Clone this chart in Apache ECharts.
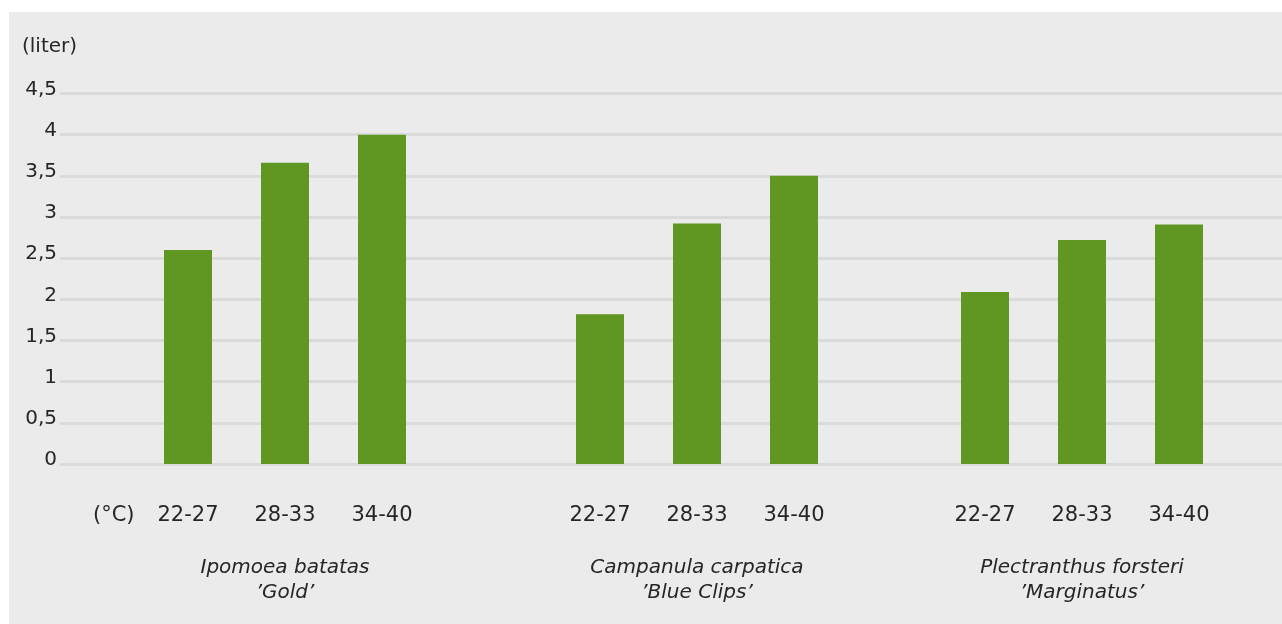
<!DOCTYPE html>
<html>
<head>
<meta charset="utf-8">
<script src="https://cdn.jsdelivr.net/npm/echarts@6/dist/echarts.min.js"></script>
<style>
  html, body { margin: 0; padding: 0; background: #ffffff; }
  #chart { position: absolute; left: 9px; top: 12px; width: 1273px; height: 612px; }
</style>
</head>
<body>
<div id="chart"></div>
<script>
// temperature classes (x labels) and plant names
const tempRanges = ['22-27', '28-33', '34-40'];
const plantNames = [
  'Ipomoea batatas\n\u2019Gold\u2019',
  'Campanula carpatica\n\u2019Blue Clips\u2019',
  'Plectranthus forsteri\n\u2019Marginatus\u2019'
];
// water use in liter, one array per plant
const ipomoeaValues = [2.6, 3.66, 4.0];
const campanulaValues = [1.82, 2.92, 3.5];
const plectranthusValues = [2.09, 2.72, 2.91];
const groupValues = [ipomoeaValues, campanulaValues, plectranthusValues];
// y axis ticks
const yMin = 0;
const yMax = 4.5;
const yStep = 0.5;

const fontFamily = 'DejaVu Sans, sans-serif';
const textColor = '#262626';
const barColor = '#609622';

const chart = echarts.init(document.getElementById('chart'));

// main grid only carries the y axis and split lines
const grids = [{ left: 51, right: 0, top: 81.5, bottom: 160 }];
const xAxes = [{ gridIndex: 0, type: 'value', show: false }];
const yAxes = [{
  gridIndex: 0,
  type: 'value',
  min: yMin,
  max: yMax,
  interval: yStep,
  axisLine: { show: false },
  axisTick: { show: false },
  axisLabel: {
    margin: 3,
    color: textColor,
    fontFamily: fontFamily,
    fontSize: 20,
    verticalAlign: 'bottom',
    lineHeight: 8,
    formatter: (v) => String(v).replace('.', ',')
  },
  splitLine: { lineStyle: { color: '#dadada', width: 3 } }
}];
const series = [];

// one small grid per plant, so the gaps between groups can differ
const groupLefts = [130.5, 542.5, 927.5];
groupLefts.forEach((left, i) => {
  const idx = i + 1;
  grids.push({ left: left, width: 291, top: 81.5, bottom: 160 });
  xAxes.push({
    gridIndex: idx,
    type: 'category',
    data: tempRanges,
    axisLine: { show: false },
    axisTick: { show: false },
    axisLabel: { margin: 41, color: textColor, fontFamily: fontFamily, fontSize: 21 },
    name: plantNames[i],
    nameLocation: 'middle',
    nameGap: 91,
    nameTextStyle: {
      color: textColor,
      fontFamily: fontFamily,
      fontSize: 20,
      fontStyle: 'italic',
      lineHeight: 25
    }
  });
  yAxes.push({ gridIndex: idx, type: 'value', min: yMin, max: yMax, show: false, splitLine: { show: false } });
  series.push({
    type: 'bar',
    xAxisIndex: idx,
    yAxisIndex: idx,
    data: groupValues[i],
    barWidth: 48,
    itemStyle: { color: barColor },
    silent: true
  });
});

chart.setOption({
  backgroundColor: '#ebebeb',
  animation: false,
  grid: grids,
  xAxis: xAxes,
  yAxis: yAxes,
  series: series,
  graphic: [
    {
      type: 'text',
      left: 13,
      top: 25,
      style: { text: '(liter)', fill: textColor, font: '20px ' + fontFamily }
    },
    {
      type: 'text',
      left: 84,
      top: 493,
      style: { text: '(°C)', fill: textColor, font: '21px ' + fontFamily }
    }
  ]
});
</script>
</body>
</html>
